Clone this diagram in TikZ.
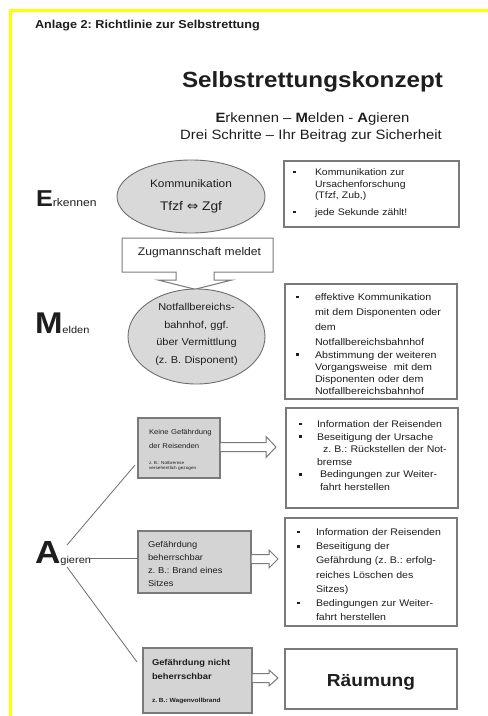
\documentclass[tikz,border=0pt]{standalone}
\usepackage{fontspec}
\setmainfont{Liberation Sans}[FakeStretch=1.1]
\newfontfamily\dejavu{DejaVu Sans}[FakeStretch=1.1]
\usetikzlibrary{shapes.geometric,calc}
\definecolor{ylw}{HTML}{FFFF00}
\definecolor{ellfill}{HTML}{D9D9D9}
\definecolor{boxfill}{HTML}{D4D4D4}
\definecolor{edge}{HTML}{7A7A7A}
\definecolor{txt}{HTML}{1E1E1E}
\frenchspacing
\newcommand\fs[2]{\fontsize{#1}{#2}\selectfont}
\newcommand\tp{\rule{0pt}{8pt}}
\newcommand\bul[1]{\makebox[#1][l]{\rule[0.22em]{2.6pt}{2.6pt}}}
\newcommand\blockarrow[5]{\draw[barrow] (#1) ++(0,-#4) -- ++({#2-#5},0) -- ++(0,{#4-#3}) -- ++(#5,#3) -- ++(-#5,#3) -- ++(0,{#4-#3}) -- ++({#5-#2},0) -- cycle;}
\begin{document}
\begin{tikzpicture}[x=1pt,y=-1pt,
  every node/.style={inner sep=0pt,outer sep=0pt,text=txt},
  ell/.style={ellipse,draw=edge!90!black,fill=ellfill,line width=0.9pt},
  rbox/.style={rectangle,draw=edge,fill=white,line width=1.2pt,anchor=north west},
  gbox/.style={rectangle,draw=edge,fill=boxfill,line width=1.2pt,anchor=north west},
  barrow/.style={draw=edge,fill=white,line width=1pt,line join=miter},
  agline/.style={draw=edge!90!black,line width=0.8pt},
  cbox/.style={draw=edge,line width=1pt,line join=miter},
  btext/.style={anchor=north west,align=left}]
\useasboundingbox (0,0) rectangle (488,716);
\fill[white] (0,0) rectangle (488,716);
\fill[ylw] (9,9) rectangle (488,12);
\fill[ylw] (9,9) rectangle (12,716);

% header and title
\node[anchor=base west,font=\fs{11.5}{14}\bfseries] (hdr) at (35,28) {Anlage 2: Richtlinie zur Selbstrettung};
\node[anchor=base,font=\fs{22}{26}\bfseries] (title) at (312.5,87) {Selbstrettungskonzept};
\node[anchor=base,font=\fs{13.5}{16}] (sub1) at (312.5,122) {\textbf{E}rkennen – \textbf{M}elden - \textbf{A}gieren};
\node[anchor=base,font=\fs{13.5}{16}] (sub2) at (311,139.5) {Drei Schritte – Ihr Beitrag zur Sicherheit};

% step letters
\node[anchor=base west] (E) at (36,206) {{\fs{23}{24}\bfseries E}{\fs{11}{12}rkennen}};
\node[anchor=base west] (M) at (35,333) {{\fs{30}{30}\bfseries M}{\fs{10}{12}elden}};
\node[anchor=base west] (A) at (35,563) {{\fs{32}{32}\bfseries A}{\fs{10}{12}gieren}};

% Erkennen
\node[ell,minimum width=148pt,minimum height=73pt] (ell1) at (191,196.5) {};
\node[anchor=base,font=\fs{10.8}{12}] (kom) at (191,187) {Kommunikation};
\node[anchor=base,font=\fs{12.5}{14}] (tz) at (191,210) {Tfzf {\dejavu ⇔} Zgf};

\node[rbox,minimum width=175pt,minimum height=66pt] (r1) at (284,161) {};
\node[btext,text width=155pt,font=\fs{9.5}{11.5}] (t1) at (293,167.5)
 {\tp\bul{22pt}Kommunikation zur\\\hspace*{22pt}Ursachenforschung\\\hspace*{22pt}(Tfzf, Zub,)\\[5.5pt]\bul{22pt}jede Sekunde zählt!};

% callout
\draw[cbox] (210,293) -- (158,280) -- (176,280) -- (176,272) -- (122,272) -- (122,238) -- (273,238) -- (273,272) -- (214,272) -- (214,280) -- (232,280) -- (180,293);
\node[anchor=base,font=\fs{11}{13}] (zug) at (199.5,255) {Zugmannschaft meldet};

% Melden
\node[ell,minimum width=137pt,minimum height=95pt] (ell2) at (196.5,336.5) {};
\node[anchor=north,text width=130pt,align=center,font=\fs{10}{17.6}] (notf) at (196.5,302.5)
 {\tp Notfallbereichs-\\bahnhof, ggf.\\über Vermittlung\\(z. B. Disponent)};

\node[rbox,minimum width=172pt,minimum height=115pt] (r2) at (285,284) {};
\node[btext,text width=160pt,font=\fs{9.7}{12.2}] (t2) at (296,292.5)
 {\tp\bul{19pt}effektive Kommunikation\\[2.8pt]
  \hspace*{19pt}mit dem Disponenten oder\\[2.8pt]
  \hspace*{19pt}dem\\[2.8pt]
  \hspace*{19pt}Notfallbereichsbahnhof\\[0.5pt]
  \bul{19pt}Abstimmung der weiteren\\
  \hspace*{19pt}Vorgangsweise\ \ mit dem\\
  \hspace*{19pt}Disponenten oder dem\\
  \hspace*{19pt}Notfallbereichsbahnhof};

% Agieren connectors
\coordinate (aU) at (67,545);
\coordinate (aM) at (90,558);
\coordinate (aD) at (67,567);
\coordinate (g1in) at (135,465);
\coordinate (g3in) at (137,662);

% gray boxes
\node[gbox,minimum width=82pt,minimum height=60pt] (g1) at (138,418) {};
\node[btext,text width=70pt,font=\fs{7}{14}] (g1t) at (149,426.5) {\tp Keine Gefährdung\\der Reisenden};
\node[anchor=base west,font=\fs{4.3}{5}] (g1s1) at (149,464.5) {z. B.: Notbremse};
\node[anchor=base west,font=\fs{4.3}{5}] (g1s2) at (149,469.5) {versehentlich gezogen};

\node[gbox,minimum width=113pt,minimum height=62pt] (g2) at (138,531) {};
\node[btext,text width=100pt,font=\fs{8.5}{13}] (g2t) at (148,539) {\tp Gefährdung\\beherrschbar\\z. B.: Brand eines\\Sitzes};

\node[gbox,minimum width=109pt,minimum height=65pt] (g3) at (143,648) {};
\node[btext,text width=95pt,font=\fs{8.5}{14}\bfseries] (g3t) at (152,657.5) {\tp Gefährdung nicht\\beherrschbar};
\node[anchor=base west,font=\fs{6}{7}\bfseries] (g3s) at (152,702) {z. B.: Wagenvollbrand};

\draw[agline] (aU) -- (g1in);
\draw[agline] (aM) -- (aM -| g2.west);
\draw[agline] (aD) -- (g3in);

% result boxes
\node[rbox,minimum width=172pt,minimum height=100pt] (r3) at (286,408) {};
\node[btext,text width=160pt,font=\fs{9.6}{12.6}] (t3) at (299,419.5)
 {\tp\bul{18pt}Information der Reisenden\\
  \bul{18pt}Beseitigung der Ursache\\
  \hspace*{24pt}z. B.: Rückstellen der Not-\\
  \hspace*{18pt}bremse\\
  \bul{21pt}Bedingungen zur Weiter-\\
  \hspace*{21pt}fahrt herstellen};

\node[rbox,minimum width=172pt,minimum height=108pt] (r4) at (285,518) {};
\node[btext,text width=160pt,font=\fs{9.6}{14.2}] (t4) at (297,527.5)
 {\tp\bul{19pt}Information der Reisenden\\
  \bul{19pt}Beseitigung der\\
  \hspace*{19pt}Gefährdung (z. B.: erfolg-\\
  \hspace*{19pt}reiches Löschen des\\
  \hspace*{19pt}Sitzes)\\
  \bul{19pt}Bedingungen zur Weiter-\\
  \hspace*{19pt}fahrt herstellen};

\node[rbox,minimum width=172pt,minimum height=60pt] (r5) at (285,649) {};
\node[anchor=base,font=\fs{17.4}{20}\bfseries] (raum) at (371,686.5) {Räumung};

% block arrows
\blockarrow{$(g1.east)+(0,-1)$}{56}{10.5}{4.5}{10}
\blockarrow{$(g2.east)+(0,-3)$}{27}{9}{4.5}{9}
\blockarrow{$(g3.east)+(0,-2.5)$}{26}{8}{4.5}{9}
\end{tikzpicture}
\end{document}
